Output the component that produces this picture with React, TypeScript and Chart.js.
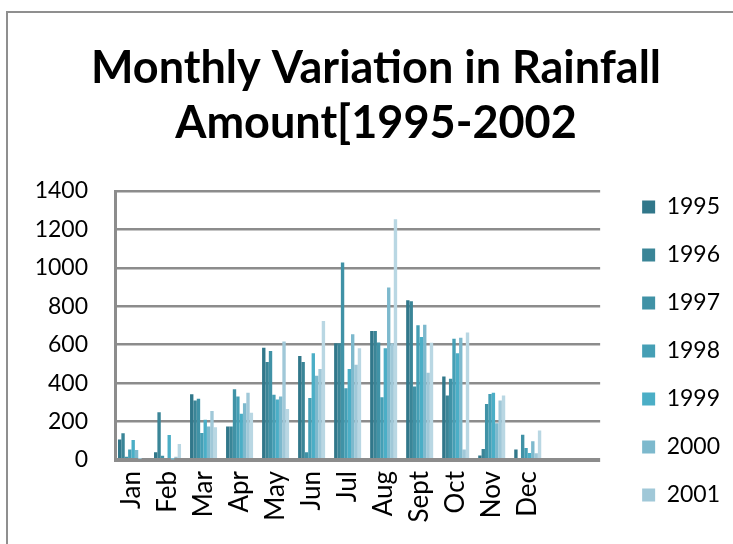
import React, { useEffect, useRef } from 'react';
import { Chart, registerables } from 'chart.js';

Chart.register(...registerables);

const months = ['Jan', 'Feb', 'Mar', 'Apr', 'May', 'Jun', 'Jul', 'Aug', 'Sept', 'Oct', 'Nov', 'Dec'];
const years = ['1995', '1996', '1997', '1998', '1999', '2000', '2001', '2002'];

const rain1995 = [107, 40, 342, 174, 584, 541, 608, 672, 831, 435, 23, 54];
const rain1996 = [139, 248, 310, 174, 510, 510, 608, 672, 826, 336, 57, 0];
const rain1997 = [17, 22, 319, 368, 567, 40, 1028, 612, 383, 423, 292, 132];
const rain1998 = [55, 10, 141, 331, 339, 323, 373, 326, 701, 631, 344, 63];
const rain1999 = [104, 130, 209, 241, 315, 556, 473, 581, 640, 556, 350, 37];
const rain2000 = [52, 2, 174, 296, 330, 438, 655, 898, 704, 636, 191, 97];
const rain2001 = [5, 17, 255, 350, 617, 473, 496, 608, 454, 54, 310, 35];
const rain2002 = [0, 83, 171, 246, 266, 723, 581, 1253, 610, 663, 336, 153];

const seriesValues = [rain1995, rain1996, rain1997, rain1998, rain1999, rain2000, rain2001, rain2002];
const seriesColors = ['#31778A', '#3A8597', '#4092A6', '#459FB5', '#4BAEC6', '#7DB9CD', '#A0C8D8', '#B9D7E3'];

const yMin = 0;
const yMax = 1400;
const yStep = 200;
const titleLines = ['Monthly Variation in Rainfall', 'Amount[1995-2002'];

const W = 722;
const H = 600;

export default function App() {
  const ref = useRef<HTMLCanvasElement>(null);

  useEffect(() => {
    Chart.defaults.font.family = 'Lato';
    const chart = new Chart(ref.current as HTMLCanvasElement, {
      type: 'bar',
      data: {
        datasets: years.map((y, k) => ({
          label: y,
          data: seriesValues[k].map((v, i) => ({ x: i, y: v })),
          backgroundColor: seriesColors[k],
          borderWidth: 0,
          categoryPercentage: 0.75,
          barPercentage: 1,
        })),
      },
      options: {
        responsive: false,
        animation: false,
        devicePixelRatio: 1,
        layout: { padding: { left: 14, top: 0, right: 0, bottom: 0 } },
        plugins: {
          title: {
            display: true,
            text: titleLines,
            color: '#000',
            font: { family: 'Lato', size: 45, weight: 'bold', lineHeight: 55 / 45 },
            padding: { top: 27.5, bottom: 40.5 },
          },
          legend: {
            position: 'right',
            align: 'start',
            title: {
              display: true,
              text: ' ',
              font: { size: 10, lineHeight: 1 },
              padding: { top: 0, bottom: 147.5 },
            },
            labels: {
              boxWidth: 13,
              boxHeight: 13,
              padding: 25,
              color: '#000',
              font: { family: 'Lato', size: 23 },
              filter: (item: any) => item.text !== '2002',
            },
          },
          tooltip: { enabled: false },
        },
        scales: {
          x: {
            type: 'linear',
            offset: false,
            min: -0.458,
            max: 13.01,
            afterBuildTicks: (s: any) => {
              s.ticks = months.map((_, i) => ({ value: i }));
            },
            afterFit: (s: any) => {
              s.height = H - 447;
            },
            grid: { display: false, drawTicks: false },
            border: { display: false },
            ticks: {
              callback: (v: any) => months[v] ?? '',
              minRotation: 90,
              maxRotation: 90,
              autoSkip: false,
              padding: 11,
              color: '#000',
              font: { family: 'Lato', size: 26 },
            },
          },
          y: {
            min: yMin,
            max: yMax,
            ticks: {
              stepSize: yStep,
              padding: 27,
              color: '#000',
              font: { family: 'Lato', size: 23 },
              callback: (v: any) => String(v),
            },
            grid: {
              color: '#8c8c8c',
              lineWidth: (ctx: any) => (ctx.tick && ctx.tick.value === 0 ? 4 : 2.5),
              drawTicks: false,
            },
            border: { display: true, color: '#8c8c8c', width: 3 },
            afterFit: (s: any) => {
              s.width = 93;
            },
          },
          y2: {
            position: 'right',
            display: true,
            grid: { display: false, drawTicks: false },
            border: { display: false },
            ticks: { display: false },
            afterFit: (s: any) => {
              s.width = 17;
            },
          },
        },
      },
    } as any);
    return () => chart.destroy();
  }, []);

  return (
    <div style={{ position: 'fixed', left: 0, top: 0, width: 733, height: 544, overflow: 'hidden', background: '#fff' }}>
      <div
        style={{
          position: 'absolute',
          left: 6,
          top: 11,
          width: 800,
          height: 700,
          borderLeft: '2px solid #8f8f8f',
          borderTop: '2px solid #8f8f8f',
        }}
      >
        <canvas ref={ref} width={W} height={H} style={{ display: 'block', width: W, height: H }} />
      </div>
    </div>
  );
}
